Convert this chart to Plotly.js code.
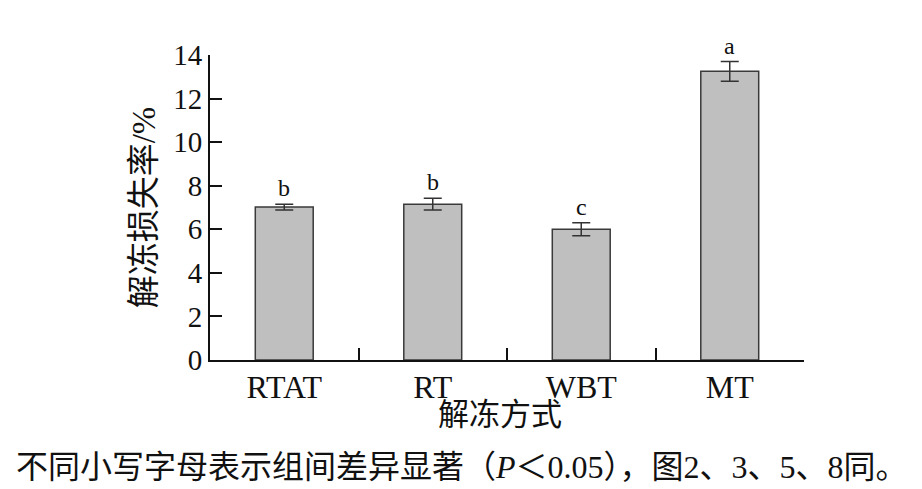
<!DOCTYPE html>
<html>
<head>
<meta charset="utf-8">
<script src="https://cdn.plot.ly/plotly-3.0.1.min.js"></script>
<style>html,body{margin:0;padding:0;background:#fff;}</style>
</head>
<body>
<div id="chart" style="width:922px;height:489px;"></div>
<script>
const categories = ["RTAT", "RT", "WBT", "MT"];
const lossRate = [7.02, 7.15, 6.0, 13.25];
const errorValues = [0.13, 0.27, 0.3, 0.45];
const sigLetters = ["b", "b", "c", "a"];
const yTickVals = [0, 2, 4, 6, 8, 10, 12, 14];
const yTitle = "解冻损失率/%";
const xTitle = "解冻方式";
const caption = "不同小写字母表示组间差异显著（<i>P</i>＜0.05），图2、3、5、8同。";

const serif = '"Liberation Serif", "Times New Roman", "Noto Sans CJK SC", serif';
const cjk = '"Liberation Serif", "Noto Sans CJK SC", serif';

const W = 922, H = 489, L = 210, R = 118, T = 55, B = 129;
const px2x = p => (p - L) / (W - L - R);
const px2y = p => (H - B - p) / (H - T - B);

const trace = {
  type: "bar",
  x: categories,
  y: lossRate,
  width: 0.39,
  marker: { color: "#c0bfc0", line: { color: "#3a3a3a", width: 1.5 } },
  error_y: { type: "data", array: errorValues, visible: true, color: "#333333", thickness: 1.5, width: 9 },
  hoverinfo: "none"
};

const annotations = categories.map((c, i) => ({
  x: c, y: lossRate[i] + errorValues[i], xref: "x", yref: "y",
  text: sigLetters[i], showarrow: false, xanchor: "center", yanchor: "bottom", yshift: 1,
  font: { family: serif, size: 24, color: "#111" }
}));

annotations.push({
  x: px2x(500), y: px2y(414), xref: "paper", yref: "paper", text: xTitle, showarrow: false,
  xanchor: "center", yanchor: "middle",
  font: { family: cjk, size: 31, color: "#111" }
});

annotations.push({
  x: px2x(462), y: px2y(467), xref: "paper", yref: "paper", text: caption, showarrow: false,
  xanchor: "center", yanchor: "middle",
  font: { family: cjk, size: 32, color: "#111" }
});

const layout = {
  width: W, height: H,
  margin: { l: L, r: R, t: T, b: B },
  paper_bgcolor: "#fff", plot_bgcolor: "#fff",
  showlegend: false,
  xaxis: {
    type: "category",
    range: [-0.5, 3.5],
    tickson: "boundaries",
    ticks: "inside", ticklen: 12, tickwidth: 2, tickcolor: "#111",
    showline: true, linecolor: "#111", linewidth: 2,
    showgrid: false, zeroline: false,
    ticklabelstandoff: -2,
    tickfont: { family: serif, size: 32, color: "#111" }
  },
  yaxis: {
    range: [0, 14],
    tickvals: yTickVals,
    ticks: "inside", ticklen: 12, tickwidth: 2, tickcolor: "#111",
    showline: true, linecolor: "#111", linewidth: 2,
    showgrid: false, zeroline: false,
    tickfont: { family: serif, size: 29, color: "#111" },
    title: { text: yTitle, font: { family: cjk, size: 33, color: "#111" }, standoff: 8 }
  },
  annotations: annotations
};

Plotly.newPlot("chart", [trace], layout, { displayModeBar: false, staticPlot: true });
</script>
</body>
</html>
